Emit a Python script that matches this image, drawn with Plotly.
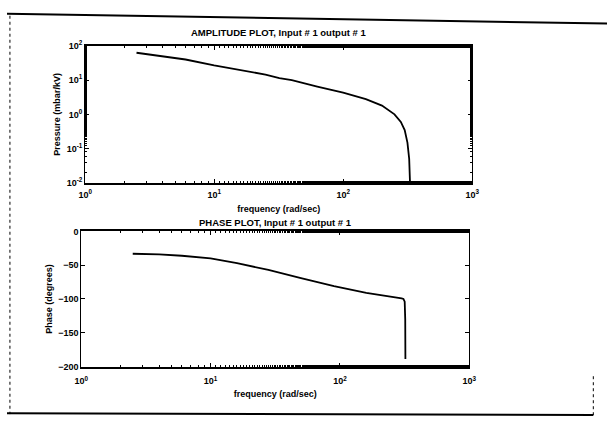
import plotly.graph_objects as go

# ---- data ----
freq_amp = [2.5, 4, 6, 10, 16, 25, 32, 40, 63, 100, 150, 200, 250, 280, 300, 315, 325, 330, 332]
amp = [63, 50, 40, 27, 20, 14.5, 11.5, 10, 6.5, 4.3, 2.8, 1.8, 1.0, 0.6, 0.35, 0.15, 0.05, 0.012, 0.005]

freq_ph = [2.5, 4, 6, 10, 16, 28, 50, 90, 160, 250, 300, 310, 317, 320, 321]
phase = [-33, -34, -36, -40, -47, -57, -69, -81, -91, -96, -99, -100, -104, -130, -189]

x_tickvals = [1, 10, 100, 1000]
x_ticktext = ["10<sup>0</sup>", "10<sup>1</sup>", "10<sup>2</sup>", "10<sup>3</sup>"]
amp_tickvals = [0.01, 0.1, 1, 10, 100]
amp_ticktext = ["10<sup>-2</sup>", "10<sup>-1</sup>", "10<sup>0</sup>", "10<sup>1</sup>", "10<sup>2</sup>"]
ph_tickvals = [0, -50, -100, -150, -200]

title_amp = "AMPLITUDE PLOT, Input # 1 output # 1"
title_ph = "PHASE PLOT, Input # 1 output # 1"
xlabel = "frequency (rad/sec)"
ylabel_amp = "Pressure (mbar/kV)"
ylabel_ph = "Phase (degrees)"

W, H = 614, 423
FONT = dict(family="Liberation Sans, Arial, sans-serif", size=9, color="black", weight="bold")
TFONT = dict(FONT, size=9.5)

fig = go.Figure()
fig.add_trace(go.Scatter(x=freq_amp, y=amp, mode="lines",
                         line=dict(color="black", width=1.8),
                         xaxis="x", yaxis="y", hoverinfo="skip"))
fig.add_trace(go.Scatter(x=freq_ph, y=phase, mode="lines",
                         line=dict(color="black", width=1.8),
                         xaxis="x2", yaxis="y2", hoverinfo="skip"))

def px(v):
    return v / W

def py(v):
    return 1 - v / H

common_x = dict(type="log", range=[0, 3], tickvals=x_tickvals, ticktext=x_ticktext,
                showgrid=False, zeroline=False, showline=True, linecolor="black",
                linewidth=2, mirror="allticks", ticks="inside", ticklen=4,
                tickcolor="black", tickfont=FONT,
                minor=dict(ticks="inside", ticklen=2, tickcolor="black"))

AX_L, AX_R = 80, 476
PX_L, PX_R = 76, 473

fig.update_layout(
    width=W, height=H,
    margin=dict(l=0, r=0, t=0, b=0),
    paper_bgcolor="white", plot_bgcolor="white",
    showlegend=False,
    font=FONT,
    xaxis=dict(common_x, domain=[px(AX_L), px(AX_R)], anchor="y", ticklabelstandoff=2,
               title=dict(text=xlabel, font=FONT, standoff=7)),
    yaxis=dict(type="log", range=[-2, 2], domain=[py(181), py(40)], anchor="x",
               tickvals=amp_tickvals, ticktext=amp_ticktext,
               showgrid=False, zeroline=False, showline=True, linecolor="black",
               linewidth=1, mirror="allticks", ticks="inside", ticklen=4,
               tickcolor="black", tickfont=FONT,
               minor=dict(ticks="inside", ticklen=2, tickcolor="black"),
               title=dict(text=ylabel_amp, font=FONT, standoff=4)),
    xaxis2=dict(common_x, domain=[px(PX_L), px(PX_R)], anchor="y2", ticklabelstandoff=5,
                title=dict(text=xlabel, font=FONT, standoff=5)),
    yaxis2=dict(range=[-200, 0], domain=[py(370), py(231)], anchor="x2",
                tickvals=ph_tickvals,
                showgrid=False, zeroline=False, showline=True, linecolor="black",
                linewidth=1, mirror="allticks", ticks="inside", ticklen=4,
                tickcolor="black", tickfont=FONT,
                title=dict(text=ylabel_ph, font=FONT, standoff=4)),
)

fig.add_annotation(text=title_amp, x=(px(AX_L) + px(AX_R)) / 2, y=py(26), xref="paper", yref="paper",
                   showarrow=False, font=TFONT, xanchor="center", yanchor="middle")
fig.add_annotation(text=title_ph, x=(px(PX_L) + px(PX_R)) / 2, y=py(222), xref="paper", yref="paper",
                   showarrow=False, font=TFONT, xanchor="center", yanchor="middle")

# scanned outer frame
fig.add_shape(type="line", xref="paper", yref="paper", x0=0, y0=py(7), x1=1, y1=py(17),
              line=dict(color="black", width=2))
fig.add_shape(type="line", xref="paper", yref="paper", x0=px(3), y0=py(9), x1=px(3), y1=py(419),
              line=dict(color="black", width=1, dash="dot"))
fig.add_shape(type="line", xref="paper", yref="paper", x0=0, y0=py(418), x1=px(600), y1=py(420),
              line=dict(color="black", width=2))
fig.add_shape(type="line", xref="paper", yref="paper", x0=px(600), y0=py(380), x1=px(600), y1=py(420),
              line=dict(color="black", width=1, dash="dot"))

fig.write_html("out.html")
